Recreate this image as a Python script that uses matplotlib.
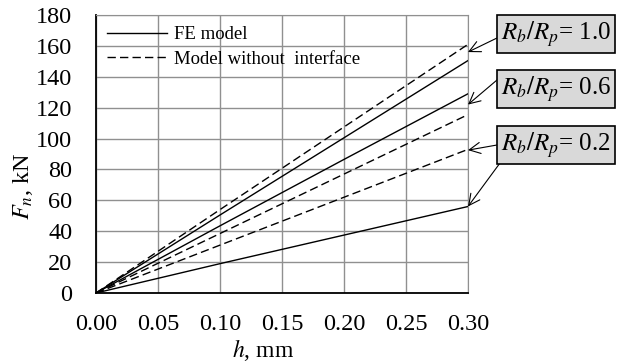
import numpy as np
import matplotlib.pyplot as plt

plt.rcParams['font.family'] = ['Liberation Serif', 'DejaVu Serif']
plt.rcParams['mathtext.fontset'] = 'stix'

# displacement h (mm)
h = [0.0, 0.1, 0.2, 0.3]
# FE model force (kN)
fe_10 = [0.0, 50.5, 100.5, 150.5]
fe_06 = [0.0, 43.5, 86.5, 129.0]
fe_02 = [0.0, 19.0, 37.5, 56.0]
# model without interface (kN)
ni_10 = [0.0, 54.0, 107.5, 161.0]
ni_06 = [0.0, 38.5, 77.0, 115.5]
ni_02 = [0.0, 31.0, 62.0, 93.0]

ratio_labels = ['1.0', '0.6', '0.2']
xticks = [0.0, 0.05, 0.10, 0.15, 0.20, 0.25, 0.30]
yticks = [0, 20, 40, 60, 80, 100, 120, 140, 160, 180]

W, H = 621, 363
fig = plt.figure(figsize=(W/100, H/100), dpi=100)
ax = fig.add_axes([96/W, 1-293/H, (468-96)/W, (293-15)/H])

ax.plot(h, fe_10, 'k-', lw=1, label='FE model')
ax.plot(h, ni_10, 'k--', lw=1, dashes=(6, 3), label='Model without  interface')
ax.plot(h, fe_06, 'k-', lw=1)
ax.plot(h, ni_06, 'k--', lw=1, dashes=(6, 3))
ax.plot(h, fe_02, 'k-', lw=1)
ax.plot(h, ni_02, 'k--', lw=1, dashes=(6, 3))

ax.set_xlim(0, 0.30)
ax.set_ylim(0, 180)
ax.set_xticks(xticks)
ax.set_yticks(yticks)
ax.set_xticklabels(['%.2f' % v for v in xticks])
ax.tick_params(length=0, labelsize=17.5)
ax.tick_params(axis='y', pad=17)
ax.tick_params(axis='x', pad=15)
ax.grid(True, color='#909090', lw=1)
ax.spines['top'].set_color('#909090')
ax.spines['right'].set_color('#909090')
ax.spines['left'].set_linewidth(1.3)
ax.spines['bottom'].set_linewidth(1.3)

ax.set_xlabel(r'$h$, mm', fontsize=17)
ax.xaxis.set_label_coords(0.45, -0.16)
ax.set_ylabel(r'$F_n$, kN', fontsize=17.5)
ax.yaxis.set_label_coords(-0.165, 0.385)

ax.legend(loc='upper left', frameon=False, fontsize=13.5, handlelength=3.2,
          handletextpad=0.35, labelspacing=0.4, borderaxespad=0.1,
          borderpad=0.35, bbox_to_anchor=(0.008, 0.99))

# label boxes (figure pixel positions)
bbox = dict(boxstyle='square,pad=0.16', fc='#d9d9d9', ec='black', lw=1.2)
box_y = [34, 89, 145]
for lab, y in zip(ratio_labels, box_y):
    fig.text(501/W, 1-y/H, r'$R_b/R_p$= ' + lab, fontsize=18,
             va='center', ha='left', bbox=bbox)

# arrows: start in figure pixels, end at line ends
arrow = dict(arrowstyle='->', color='black', lw=0.8, mutation_scale=20,
             shrinkA=0, shrinkB=0)
starts = [(497, 38), (497, 80), (497, 145), (500, 163)]
ends = [(0.30, 156), (0.30, 122), (0.30, 92.5), (0.30, 56)]
for (sx, sy), e in zip(starts, ends):
    ax.annotate('', xy=e, xytext=(sx, H-sy), textcoords='figure pixels',
                arrowprops=arrow, annotation_clip=False)

fig.savefig('out.png', dpi=100)
